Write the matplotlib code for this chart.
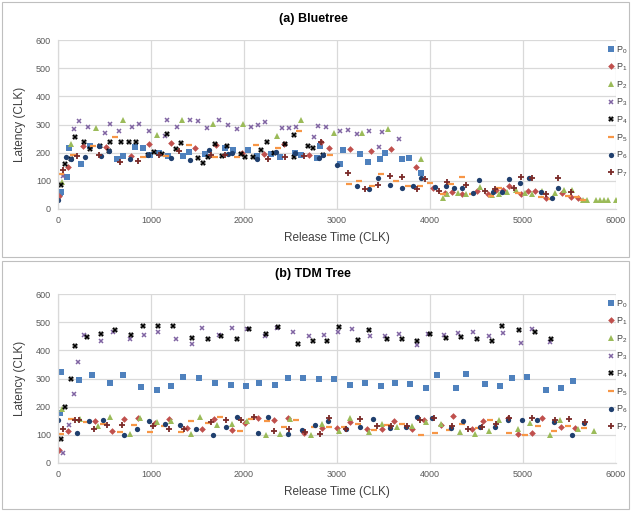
import matplotlib
matplotlib.use("Agg")
import matplotlib.pyplot as plt
from matplotlib.patches import Rectangle

plt.rcParams['font.family'] = ['Liberation Sans', 'DejaVu Sans']
plt.rcParams['mathtext.fontset'] = 'custom'
plt.rcParams['mathtext.rm'] = 'Liberation Sans'
plt.rcParams['mathtext.it'] = 'Liberation Sans'

series_labels = ['P$_0$', 'P$_1$', 'P$_2$', 'P$_3$', 'P$_4$', 'P$_5$', 'P$_6$', 'P$_7$']
x_ticks = [0, 1000, 2000, 3000, 4000, 5000, 6000]
y_ticks = [0, 100, 200, 300, 400, 500, 600]

# ---------------- (a) Bluetree ----------------
bt_p0_x = [18, 36, 100, 114, 250, 346, 636, 704, 832, 918, 993, 1090, 1182, 1346, 1411, 1582, 1793, 1882, 2043, 2143, 2293, 2386, 2546, 2614, 2789, 2821, 3036, 3064, 3243, 3329, 3457, 3518, 3700, 3775, 3904]
bt_p0_y = [56, 62, 112, 217, 161, 222, 178, 189, 221, 215, 193, 198, 189, 187, 202, 194, 215, 209, 211, 188, 196, 185, 199, 193, 182, 225, 161, 211, 194, 168, 176, 199, 176, 182, 129]
bt_p1_x = [11, 107, 268, 511, 782, 975, 1218, 1475, 1704, 1975, 2214, 2425, 2696, 2825, 2911, 3143, 3368, 3582, 3846, 4036, 4157, 4232, 4343, 4504, 4621, 4714, 4782, 4850, 4982, 5050, 5129, 5250, 5418, 5511, 5589]
bt_p1_y = [47, 150, 225, 221, 189, 231, 234, 218, 227, 199, 195, 230, 191, 238, 217, 213, 206, 214, 150, 76, 58, 60, 53, 63, 53, 67, 67, 80, 54, 63, 65, 40, 56, 44, 38]
bt_p2_x = [43, 143, 404, 696, 1068, 1336, 1671, 1989, 2350, 2614, 2966, 3264, 3550, 3900, 4136, 4186, 4300, 4382, 4536, 4664, 4746, 4829, 4925, 5018, 5100, 5207, 5346, 5446, 5525, 5640, 5690, 5780, 5830, 5870, 5910, 5995]
bt_p2_y = [96, 232, 288, 316, 263, 316, 301, 301, 258, 316, 270, 271, 284, 178, 40, 52, 56, 52, 77, 49, 52, 62, 67, 58, 53, 63, 57, 66, 67, 31, 31, 31, 31, 31, 31, 31]
bt_p3_x = [54, 168, 221, 321, 504, 554, 657, 800, 871, 975, 1154, 1175, 1279, 1414, 1500, 1604, 1736, 1832, 1925, 2075, 2150, 2221, 2404, 2479, 2557, 2754, 2796, 2879, 3032, 3114, 3214, 3339, 3454, 3482, 3664]
bt_p3_y = [117, 283, 314, 291, 270, 301, 276, 291, 301, 277, 258, 316, 291, 317, 311, 286, 315, 299, 285, 290, 299, 310, 288, 288, 292, 256, 293, 290, 278, 279, 265, 278, 221, 272, 249]
bt_p4_x = [29, 79, 137, 183, 276, 344, 452, 548, 559, 677, 760, 839, 968, 1032, 1123, 1172, 1269, 1323, 1502, 1556, 1613, 1685, 1768, 1814, 1964, 2015, 2094, 2187, 2244, 2319, 2445, 2538, 2538, 2692, 2742, 2846]
bt_p4_y = [84, 159, 177, 254, 239, 212, 225, 206, 239, 238, 238, 237, 193, 202, 194, 267, 212, 233, 180, 164, 186, 232, 189, 225, 194, 185, 185, 209, 237, 198, 232, 263, 184, 225, 218, 193]
bt_p5_x = [29, 161, 375, 618, 918, 1164, 1404, 1693, 1929, 2125, 2368, 2589, 2921, 3125, 3239, 3371, 3471, 3636, 3768, 3893, 4000, 4139, 4221, 4339, 4454, 4654, 4739, 4946, 5075, 5189, 5304, 5482, 5579, 5646]
bt_p5_y = [123, 192, 222, 254, 185, 189, 227, 186, 186, 227, 218, 277, 193, 89, 99, 83, 125, 101, 82, 82, 91, 53, 89, 114, 52, 45, 73, 57, 108, 44, 36, 46, 44, 31]
bt_p6_x = [4, 89, 136, 289, 446, 464, 546, 777, 968, 1211, 1422, 1625, 1825, 1871, 2143, 2339, 2546, 2804, 2850, 2998, 3218, 3343, 3446, 3571, 3700, 3814, 3904, 4054, 4175, 4257, 4339, 4461, 4532, 4675, 4775, 4846, 4964, 5064, 5196, 5314, 5379]
bt_p6_y = [32, 185, 179, 185, 225, 187, 205, 178, 193, 182, 173, 209, 195, 199, 178, 201, 199, 182, 191, 156, 80, 72, 111, 85, 75, 80, 111, 79, 80, 76, 75, 57, 103, 59, 62, 107, 92, 111, 59, 39, 75]
bt_p7_x = [54, 207, 439, 664, 857, 1086, 1304, 1650, 1796, 2254, 2443, 2650, 2825, 3118, 3304, 3436, 3571, 3700, 3861, 3950, 4093, 4179, 4389, 4589, 4696, 4900, 4982, 5096, 5250, 5379, 5514]
bt_p7_y = [137, 187, 191, 168, 169, 191, 206, 193, 191, 179, 183, 187, 239, 127, 72, 84, 118, 115, 72, 108, 65, 96, 84, 65, 72, 75, 114, 111, 54, 109, 59]

# ---------------- (b) TDM Tree ----------------
tdm_p0_x = [18, 36, 222, 369, 555, 695, 892, 1061, 1211, 1344, 1513, 1692, 1857, 2021, 2165, 2337, 2477, 2638, 2803, 2964, 3143, 3297, 3469, 3619, 3783, 3954, 4072, 4276, 4387, 4588, 4753, 4885, 5047, 5251, 5405, 5541]
tdm_p0_y = [179, 323, 296, 312, 284, 311, 270, 260, 273, 304, 302, 284, 277, 275, 285, 278, 302, 302, 298, 297, 276, 284, 272, 284, 280, 268, 312, 267, 317, 280, 274, 303, 305, 260, 265, 292]
tdm_p1_x = [11, 104, 394, 584, 707, 861, 1039, 1193, 1387, 1548, 1673, 1874, 2011, 2150, 2326, 2477, 2649, 2839, 2995, 3136, 3322, 3482, 3616, 3806, 3932, 4114, 4243, 4450, 4575, 4843, 4947, 5097, 5204, 5404, 5564]
tdm_p1_y = [45, 114, 148, 114, 157, 159, 143, 155, 124, 122, 155, 118, 141, 160, 153, 161, 108, 123, 125, 147, 120, 120, 150, 121, 153, 135, 166, 120, 149, 158, 104, 108, 161, 127, 124]
tdm_p2_x = [43, 240, 426, 559, 773, 885, 1061, 1218, 1426, 1526, 1712, 1871, 2029, 2233, 2390, 2497, 2717, 2839, 3021, 3136, 3343, 3482, 3650, 3811, 3957, 4121, 4318, 4479, 4632, 4747, 4947, 5079, 5285, 5400, 5589, 5761]
tdm_p2_y = [193, 155, 130, 164, 104, 161, 147, 149, 102, 164, 136, 137, 149, 98, 102, 156, 98, 138, 115, 160, 111, 138, 129, 133, 146, 140, 109, 102, 113, 154, 120, 143, 101, 153, 121, 114]
tdm_p3_x = [54, 122, 172, 218, 279, 465, 590, 779, 925, 1079, 1265, 1444, 1544, 1733, 1869, 2030, 2226, 2357, 2530, 2701, 2860, 3016, 3164, 3351, 3511, 3664, 3864, 3982, 4150, 4304, 4464, 4636, 4782, 4979, 5096, 5293]
tdm_p3_y = [37, 134, 245, 357, 456, 434, 466, 441, 455, 466, 441, 422, 481, 455, 481, 476, 451, 478, 464, 450, 455, 465, 474, 452, 451, 457, 419, 459, 455, 461, 464, 450, 462, 425, 476, 431]
tdm_p4_x = [29, 75, 136, 179, 314, 464, 611, 786, 918, 1079, 1240, 1444, 1608, 1758, 1929, 2054, 2236, 2364, 2586, 2740, 2897, 3018, 3225, 3346, 3539, 3700, 3864, 4000, 4175, 4336, 4500, 4672, 4778, 4953, 5125, 5304]
tdm_p4_y = [84, 198, 299, 417, 446, 459, 472, 454, 485, 485, 485, 443, 440, 450, 440, 476, 459, 482, 422, 432, 432, 482, 437, 473, 440, 439, 432, 457, 445, 446, 440, 432, 485, 472, 465, 440]
tdm_p5_x = [29, 136, 304, 484, 671, 821, 993, 1140, 1319, 1433, 1609, 1745, 1953, 2079, 2247, 2426, 2563, 2749, 2910, 3072, 3225, 3400, 3543, 3704, 3900, 4054, 4200, 4346, 4518, 4650, 4854, 5025, 5161, 5332, 5482, 5651]
tdm_p5_y = [104, 155, 145, 137, 109, 134, 110, 131, 110, 149, 142, 164, 115, 155, 148, 129, 151, 127, 128, 127, 137, 118, 134, 140, 98, 107, 118, 138, 124, 154, 108, 98, 130, 113, 130, 123]
tdm_p6_x = [4, 207, 333, 486, 707, 850, 979, 1147, 1315, 1487, 1666, 1803, 1928, 2147, 2254, 2470, 2620, 2763, 2907, 3100, 3250, 3382, 3575, 3743, 3857, 4021, 4221, 4354, 4543, 4697, 4836, 4989, 5150, 5329, 5526, 5651]
tdm_p6_y = [151, 107, 150, 151, 99, 120, 149, 138, 134, 121, 101, 129, 162, 107, 162, 104, 118, 136, 150, 120, 127, 157, 125, 128, 162, 160, 123, 149, 127, 128, 151, 153, 152, 146, 101, 141]
tdm_p7_x = [54, 186, 222, 390, 527, 688, 1022, 1190, 1358, 1645, 1803, 1964, 2111, 2326, 2480, 2656, 2814, 2918, 3097, 3250, 3429, 3583, 3758, 3897, 4043, 4236, 4411, 4554, 4708, 4851, 5100, 5347, 5490, 5668]
tdm_p7_y = [122, 153, 153, 120, 134, 134, 130, 120, 120, 146, 151, 153, 164, 114, 120, 111, 104, 161, 120, 155, 130, 131, 130, 153, 160, 130, 120, 127, 140, 160, 161, 153, 157, 144]

bluetree = [(bt_p0_x, bt_p0_y), (bt_p1_x, bt_p1_y), (bt_p2_x, bt_p2_y), (bt_p3_x, bt_p3_y),
            (bt_p4_x, bt_p4_y), (bt_p5_x, bt_p5_y), (bt_p6_x, bt_p6_y), (bt_p7_x, bt_p7_y)]
tdm = [(tdm_p0_x, tdm_p0_y), (tdm_p1_x, tdm_p1_y), (tdm_p2_x, tdm_p2_y), (tdm_p3_x, tdm_p3_y),
       (tdm_p4_x, tdm_p4_y), (tdm_p5_x, tdm_p5_y), (tdm_p6_x, tdm_p6_y), (tdm_p7_x, tdm_p7_y)]

styles = [
    dict(marker='s', color='#4F81BD', markersize=3.8, mew=0),
    dict(marker='D', color='#C0504D', markersize=3.4, mew=0),
    dict(marker='^', color='#9BBB59', markersize=4.0, mew=0),
    dict(marker='x', color='#8064A2', markersize=3.3, mew=1.1),
    dict(marker='X', color='#000000', markersize=4.2, mew=0),
    dict(marker='_', color='#F79646', markersize=4.4, mew=1.6),
    dict(marker='o', color='#1F3F6E', markersize=3.8, mew=0),
    dict(marker='+', color='#7A2A28', markersize=4.0, mew=1.3),
]

W, H = 631, 512
fig = plt.figure(figsize=(W / 100, H / 100), dpi=100)

# panel borders
for (y0, y1) in [(2, 257), (261, 509)]:
    fig.add_artist(Rectangle((2 / W, 1 - y1 / H), 627 / W, (y1 - y0) / H,
                             transform=fig.transFigure, fill=False,
                             edgecolor='#BFBFBF', linewidth=0.8))

tick_color = '#595959'
grid_color = '#D9D9D9'

def make_axes(top_px, bottom_px, data, title, title_y):
    ax = fig.add_axes([58 / W, 1 - bottom_px / H, (616 - 58) / W, (bottom_px - top_px) / H])
    for (xs, ys), st in zip(data, styles):
        ax.plot(xs, ys, linestyle='none', **st)
    ax.set_xlim(0, 6000)
    ax.set_ylim(0, 600)
    ax.set_xticks(x_ticks)
    ax.set_yticks(y_ticks)
    ax.grid(True, color=grid_color, linewidth=0.9)
    ax.set_axisbelow(True)
    for s in ['top', 'right']:
        ax.spines[s].set_visible(False)
    for s in ['left', 'bottom']:
        ax.spines[s].set_color(grid_color)
        ax.spines[s].set_linewidth(0.9)
    ax.tick_params(axis='both', length=0, labelsize=6.5, colors=tick_color, pad=5)
    ax.set_xlabel('Release Time (CLK)', fontsize=8.5, color='#404040', labelpad=5)
    ax.set_ylabel('Latency (CLK)', fontsize=8.5, color='#404040', labelpad=7)
    fig.text(313 / W, 1 - title_y / H, title, ha='center', va='center',
             fontsize=9, fontweight='bold', color='#000000')
    return ax

ax1 = make_axes(40, 209, bluetree, '(a) Bluetree', 19)
ax2 = make_axes(294, 463, tdm, '(b) TDM Tree', 274)

for ax, top in [(ax1, 44), (ax2, 298)]:
    handles = ax.get_lines()[:8]
    fig.legend(handles, series_labels, loc='upper left',
               bbox_to_anchor=(608 / W, 1 - top / H), frameon=False,
               fontsize=6.5, handlelength=0.6, handletextpad=0.3,
               labelspacing=0.68, borderpad=0, borderaxespad=0,
               labelcolor='#404040')

fig.savefig('out.png', dpi=100)
